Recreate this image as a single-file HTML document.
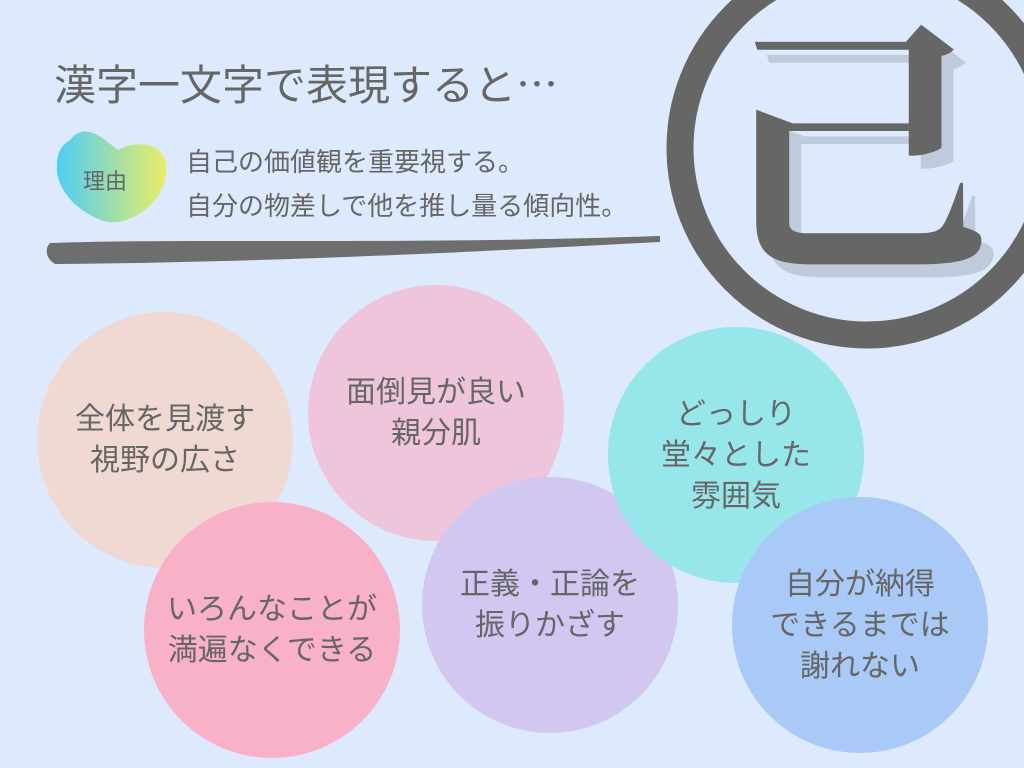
<!DOCTYPE html>
<html><head><meta charset="utf-8"><style>
body{margin:0;width:1024px;height:768px;background:#dde9fd;overflow:hidden;position:relative;font-family:"Liberation Sans","Noto Sans CJK JP",sans-serif;color:#666}
.c{position:absolute;width:256px;height:256px;border-radius:50%;display:flex;align-items:center;justify-content:center;text-align:center;font-size:30px;line-height:41px;color:#666}
.t{position:absolute;white-space:nowrap}
</style></head><body>
<div class="t" style="left:54px;top:52px;font-size:42px;color:#666">漢字一文字で表現すると<span style="font-family:'Noto Sans CJK JP',sans-serif">…</span></div>
<svg style="position:absolute;left:0;top:0" width="1024" height="768">
<defs><linearGradient id="g" x1="0" x2="1"><stop offset="0" stop-color="#4fcdf5"/><stop offset="1" stop-color="#eaee66"/></linearGradient></defs>
<path d="M70 140 C85 120 105 140 118 150 C135 140 170 140 166 175 C162 205 130 225 108 222 C80 215 55 190 57 165 C57 152 62 145 70 140Z" fill="url(#g)"/>
<path d="M50 243 C200 238 400 245 660 236 L660 242 C500 250 300 262 55 264 C45 258 45 248 50 243Z" fill="#6e6e6e"/>
<circle cx="867" cy="148" r="187" fill="none" stroke="#666" stroke-width="27"/>
</svg>
<div class="t" style="left:83px;top:164px;font-size:22px">理由</div>
<div class="t" style="left:186px;top:140px;font-size:26px;line-height:44px">自己の価値観を重要視する。<br>自分の物差しで他を推し量る傾向性。</div>
<div class="t" style="left:723px;top:-2px;font-size:270px;line-height:270px;font-family:'Noto Serif CJK SC','Noto Serif CJK JP',serif;font-weight:bold;color:#666;text-shadow:12px 13px 0 #bfcadb">己</div>
<div class="c" style="left:37px;top:312px;background:#f0d9d2">全体を見渡す<br>視野の広さ</div>
<div class="c" style="left:308px;top:285px;background:#efc5dc">面倒見が良い<br>親分肌</div>
<div class="c" style="left:144px;top:502px;background:#f9b1c8">いろんなことが<br>満遍なくできる</div>
<div class="c" style="left:422px;top:477px;background:#d2c7f1">正義・正論を<br>振りかざす</div>
<div class="c" style="left:608px;top:327px;background:#96e6ea">どっしり<br>堂々とした<br>雰囲気</div>
<div class="c" style="left:732px;top:497px;background:#a9c9f6">自分が納得<br>できるまでは<br>謝れない</div>
</body></html>
